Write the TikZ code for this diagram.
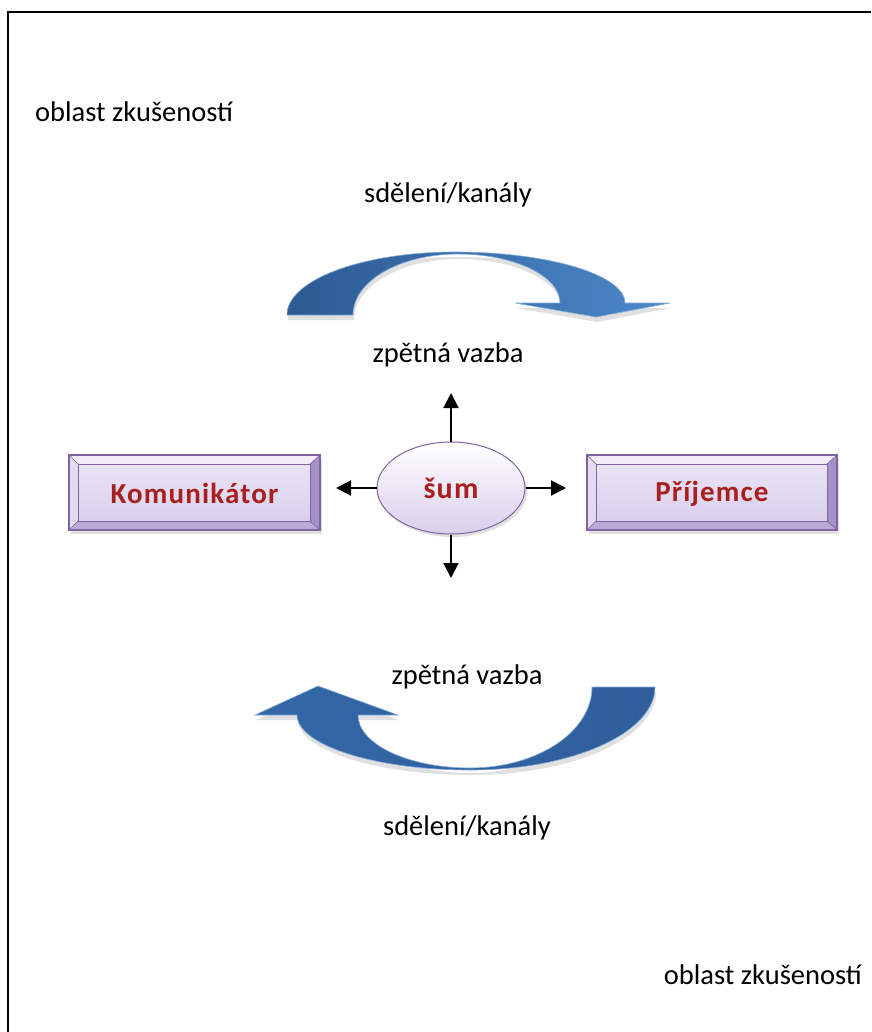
\documentclass[tikz,border=0pt]{standalone}
\usepackage{fontspec}
\setmainfont{Carlito}
\newfontfamily\boxfont[LetterSpace=4]{Carlito}
\usetikzlibrary{arrows.meta,shapes.geometric}
\definecolor{frame}{HTML}{000000}
\definecolor{rimline}{HTML}{8064A2}
\definecolor{facetop}{HTML}{EAE4F5}
\definecolor{facebot}{HTML}{D9CFEC}
\definecolor{bevtop}{HTML}{F1EDF8}
\definecolor{bevleft}{HTML}{E2DAF0}
\definecolor{bevright}{HTML}{A591C8}
\definecolor{bevbot}{HTML}{BBA9D8}
\definecolor{redtxt}{HTML}{A8201E}
\definecolor{bluedark}{HTML}{2C5A93}
\definecolor{bluelight}{HTML}{4D88C9}
\definecolor{bluemid}{HTML}{3467A7}
\definecolor{bluemid2}{HTML}{2F5E9B}
\tikzset{
  lbl/.style={font=\fontsize{28.5}{34}\selectfont, inner sep=0pt},
  boxtxt/.style={font=\boxfont\bfseries\fontsize{29}{33}\selectfont, text=redtxt, inner sep=0pt},
  noisearrow/.style={line width=2pt, -{Triangle[width=15pt,length=15pt]}},
  shadowfill/.style={fill=black, opacity=0.12},
}
% bevelled box: name, x1, y1, x2, y2, text
\newcommand\bevbox[6]{%
  \fill[shadowfill] (#2+2,#3+4) rectangle (#4+2,#5+4);
  \fill[bevtop] (#2,#3) -- (#4,#3) -- (#4-10,#3+9) -- (#2+9,#3+9) -- cycle;
  \fill[bevleft] (#2,#3) -- (#2+9,#3+9) -- (#2+9,#5-9) -- (#2,#5) -- cycle;
  \fill[bevright] (#4,#3) -- (#4-10,#3+9) -- (#4-10,#5-9) -- (#4,#5) -- cycle;
  \fill[bevbot] (#2,#5) -- (#2+9,#5-9) -- (#4-10,#5-9) -- (#4,#5) -- cycle;
  \shade[top color=facetop, bottom color=facebot, draw=rimline, line width=0.8pt]
     (#2+9,#3+9) rectangle (#4-10,#5-9);
  \draw[rimline, line width=0.6pt] (#2,#3) -- (#2+9,#3+9) (#4,#3) -- (#4-10,#3+9)
     (#2,#5) -- (#2+9,#5-9) (#4,#5) -- (#4-10,#5-9);
  \draw[rimline, line width=1.2pt] (#2,#3) rectangle (#4,#5);
  \node[boxtxt] (#1) at ({(#2+#4)/2},{(#3+#5)/2+1}) {#6};
}
\begin{document}
\begin{tikzpicture}[x=1pt,y=-1pt]
\useasboundingbox (0,0) rectangle (871,1032);
\fill[white] (0,0) rectangle (871,1032);
% frame
\draw[frame, line width=2pt] (8,1032) -- (8,12) -- (871,12);

% labels
\node[lbl, anchor=west] (ozTop) at (35,112) {oblast zkušeností};
\node[lbl] (skTop) at (448,195) {sdělení/kanály};
\node[lbl] (zvTop) at (448,355) {zpětná vazba};
\node[lbl] (zvBot) at (467,677) {zpětná vazba};
\node[lbl] (skBot) at (467,828) {sdělení/kanály};
\node[lbl, anchor=east] (ozBot) at (862,975) {oblast zkušeností};

% upper curved arrow
\fill[shadowfill] (288,320) .. controls (288,285) and (363,257) .. (456,257)
  .. controls (550,257) and (626,280) .. (626,308)
  -- (671,308) -- (597,322) -- (516,308) -- (561,308)
  .. controls (561,281) and (515,259) .. (459,259)
  .. controls (401,259) and (354,286) .. (354,320) -- cycle;
\shade[left color=bluedark, right color=bluelight, draw=bluelight!70!white, line width=0.6pt]
  (287,315) .. controls (287,280) and (362,252) .. (455,252)
  .. controls (549,252) and (625,275) .. (625,303)
  -- (670,303) -- (596,317) -- (515,303) -- (560,303)
  .. controls (560,276) and (514,254) .. (458,254)
  .. controls (400,254) and (353,281) .. (353,315) -- cycle;

% lower curved arrow
\fill[shadowfill] (656,692) .. controls (656,738) and (573,775) .. (471,775)
  .. controls (376,775) and (298,750) .. (298,720)
  -- (256,720) -- (319,691) -- (399,720) -- (359,720)
  .. controls (359,749) and (409,773) .. (471,773)
  .. controls (538,773) and (593,737) .. (593,692) -- cycle;
\shade[left color=bluemid, right color=bluemid2, draw=bluelight!70!white, line width=0.6pt]
  (655,687) .. controls (655,733) and (572,770) .. (470,770)
  .. controls (375,770) and (297,745) .. (297,715)
  -- (255,715) -- (318,686) -- (398,715) -- (358,715)
  .. controls (358,744) and (408,768) .. (470,768)
  .. controls (537,768) and (592,732) .. (592,687) -- cycle;

% boxes
\bevbox{kom}{69}{455}{320}{530}{Komunikátor}
\bevbox{pri}{587}{455}{837}{530}{Příjemce}

% noise ellipse
\fill[shadowfill] (453,491) ellipse [x radius=74, y radius=46];
\node[ellipse, minimum width=148pt, minimum height=92pt, inner sep=0pt,
      draw=rimline, line width=1pt, top color=white, bottom color=facebot,
      font=\boxfont\bfseries\fontsize{30}{34}\selectfont, text=redtxt]
  (sum) at (451,488) {šum};

\coordinate (tipUp) at (451,393);
\coordinate (tipDown) at (451,578);
\coordinate (tipLeft) at (336,488);
\coordinate (tipRight) at (566,488);
\draw[noisearrow] (sum.north) -- (tipUp);
\draw[noisearrow] (sum.south) -- (tipDown);
\draw[noisearrow] (sum.west) -- (tipLeft);
\draw[noisearrow] (sum.east) -- (tipRight);
\end{tikzpicture}
\end{document}
